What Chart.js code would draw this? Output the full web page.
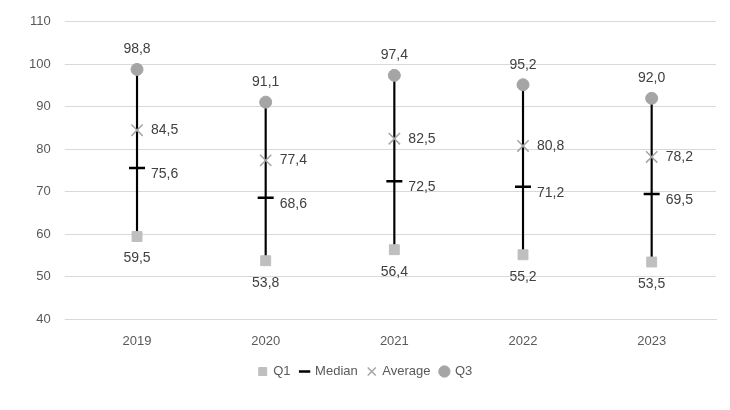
<!DOCTYPE html>
<html><head><meta charset="utf-8">
<script src="https://cdn.jsdelivr.net/npm/chart.js@4"></script>
<style>body{margin:0;background:#fff}#w{width:730px;height:410px}</style>
</head><body><div id="w"><canvas id="c"></canvas></div>
<script>
const categories=['2019','2020','2021','2022','2023'];
const q1=[59.5,53.8,56.4,55.2,53.5];
const median=[75.6,68.6,72.5,71.2,69.5];
const average=[84.5,77.4,82.5,80.8,78.2];
const q3=[98.8,91.1,97.4,95.2,92.0];
const fmt=v=>v.toFixed(1).replace('.',',');
const labelPlugin={id:'lbl',afterDatasetsDraw(ch){
  const ctx=ch.ctx;ctx.save();ctx.font='14px "Liberation Sans"';ctx.fillStyle='#404040';
  const pos={1:['below',0,22],2:['right',14,6],3:['right',14,0],4:['above',0,-20]};
  [1,2,3,4].forEach(di=>{
    const meta=ch.getDatasetMeta(di);const d=ch.data.datasets[di].data;
    meta.data.forEach((p,i)=>{const[k,dx,dy]=pos[di];
      ctx.textAlign=k==='right'?'left':'center';ctx.textBaseline='middle';
      ctx.fillText(fmt(d[i]),p.x+dx,p.y+dy);});
  });ctx.restore();}};
const legendGap={id:'lgap',beforeInit(ch){const f=ch.legend.fit;ch.legend.fit=function(){f.call(this);this.height+=18;};}};
new Chart(document.getElementById('c'),{
 data:{labels:categories,datasets:[
  {type:'bar',label:'range',data:q1.map((v,i)=>[v,q3[i]]),backgroundColor:'#000',barThickness:1.5,order:5},
  {type:'line',label:'Q1',data:q1,showLine:false,pointStyle:'rect',pointRadius:7,backgroundColor:'#bfbfbf',borderColor:'#bfbfbf',order:1},
  {type:'line',label:'Median',data:median,showLine:false,pointStyle:'line',pointRadius:8,borderWidth:2.5,borderColor:'#000',backgroundColor:'#000',order:1},
  {type:'line',label:'Average',data:average,showLine:false,pointStyle:'crossRot',pointRadius:8,borderWidth:1.5,borderColor:'#a5a5a5',backgroundColor:'#a5a5a5',order:1},
  {type:'line',label:'Q3',data:q3,showLine:false,pointStyle:'circle',pointRadius:6,backgroundColor:'#a5a5a5',borderColor:'#a5a5a5',order:1}
 ]},
 options:{responsive:true,maintainAspectRatio:false,animation:false,
  layout:{padding:{left:15,right:14,top:12,bottom:4}},
  plugins:{tooltip:{enabled:false},
   legend:{position:'bottom',labels:{filter:it=>it.text!=='range',usePointStyle:true,boxWidth:8,boxHeight:8,color:'#595959',font:{family:'Liberation Sans',size:13},padding:10}}},
  scales:{x:{grid:{display:false},border:{color:'#d9d9d9'},ticks:{color:'#595959',padding:6,font:{family:'Liberation Sans',size:13}}},
   y:{min:40,max:110,ticks:{stepSize:10,color:'#595959',padding:14,font:{family:'Liberation Sans',size:13}},grid:{color:'#d9d9d9'},border:{display:false}}}},
 plugins:[labelPlugin,legendGap]});
</script></body></html>
